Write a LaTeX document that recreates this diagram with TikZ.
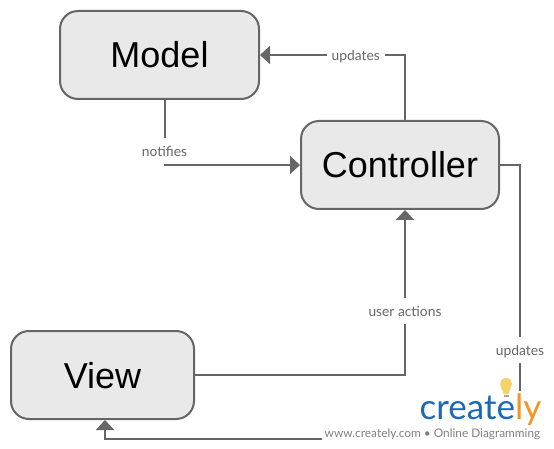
\documentclass[tikz,border=0pt]{standalone}
\usepackage{fontspec}
\setmainfont{Liberation Sans}
\newfontfamily\labfont{Lato}
\usetikzlibrary{arrows.meta}
\definecolor{edgegray}{HTML}{666666}
\definecolor{boxfill}{HTML}{E9E9E9}
\definecolor{crblue}{HTML}{1D69B4}
\definecolor{crorange}{HTML}{F7941E}
\definecolor{crbulb}{HTML}{F6D26B}
\definecolor{crtext}{HTML}{808080}
\tikzset{
  box/.style={draw=edgegray,fill=boxfill,line width=2pt,rounded corners=18pt,minimum height=88pt,inner sep=0pt,text height=26pt,text depth=-4pt,font=\fontsize{36}{40}\selectfont,text=black},
  conn/.style={draw=edgegray,line width=2pt},
  tip/.style={-{Triangle[length=10pt,width=18pt,fill=edgegray]}},
  lab/.style={fill=white,text=edgegray,inner sep=0pt,font=\labfont\fontsize{13.8}{15}\selectfont,minimum height=26pt,text depth=0pt},
}
\begin{document}
\begin{tikzpicture}[x=1pt,y=-1pt]
\useasboundingbox (0,0) rectangle (554,449);
\fill[white] (0,0) rectangle (554,449);
\node[box,minimum width=199pt] (model) at (159.5,55) {Model};
\node[box,minimum width=198pt] (ctrl) at (400,165) {Controller};
\node[box,minimum width=183pt] (view) at (102.5,375) {View};
\coordinate (bend) at (520,439);
\draw[conn,tip] ([xshift=5pt]ctrl.north) |- node[lab,pos=0.67,minimum width=58pt] {updates} (model.east);
\draw[conn,tip] ([xshift=5pt]model.south) |- node[lab,pos=0.394,minimum width=54pt] {notifies} (ctrl.west);
\draw[conn,tip] (view.east) -| node[lab,pos=0.693,minimum width=82pt] {user actions} ([xshift=5pt]ctrl.south);
\draw[conn,tip] (ctrl.east) -| node[lab,pos=0.8376,minimum width=56pt] {updates} (bend) -| ([xshift=2.5pt]view.south);
\node[fill=white,minimum width=222pt,minimum height=58pt,inner sep=0pt] (mark) at (433,420) {};
\fill[crbulb] (506,378) .. controls (501.5,378) and (500,381.5) .. (500,384) .. controls (500,387.5) and (503,389.5) .. (503.5,394) -- (508.5,394) .. controls (509,389.5) and (512,387.5) .. (512,384) .. controls (512,381.5) and (510.5,378) .. (506,378) -- cycle;
\fill[gray!70] (503.5,394.5) rectangle (508.5,397);
\node[anchor=base,inner sep=0pt,font=\labfont\fontsize{35}{40}\selectfont] (logo) at (480.5,419) {\textcolor{crblue}{create}\textcolor{crorange}{ly}};
\node[anchor=base,inner sep=0pt,text=crtext,font=\labfont\fontsize{11.85}{13}\selectfont] (tagline) at (432.5,437) {www.creately.com • Online Diagramming};
\end{tikzpicture}
\end{document}
